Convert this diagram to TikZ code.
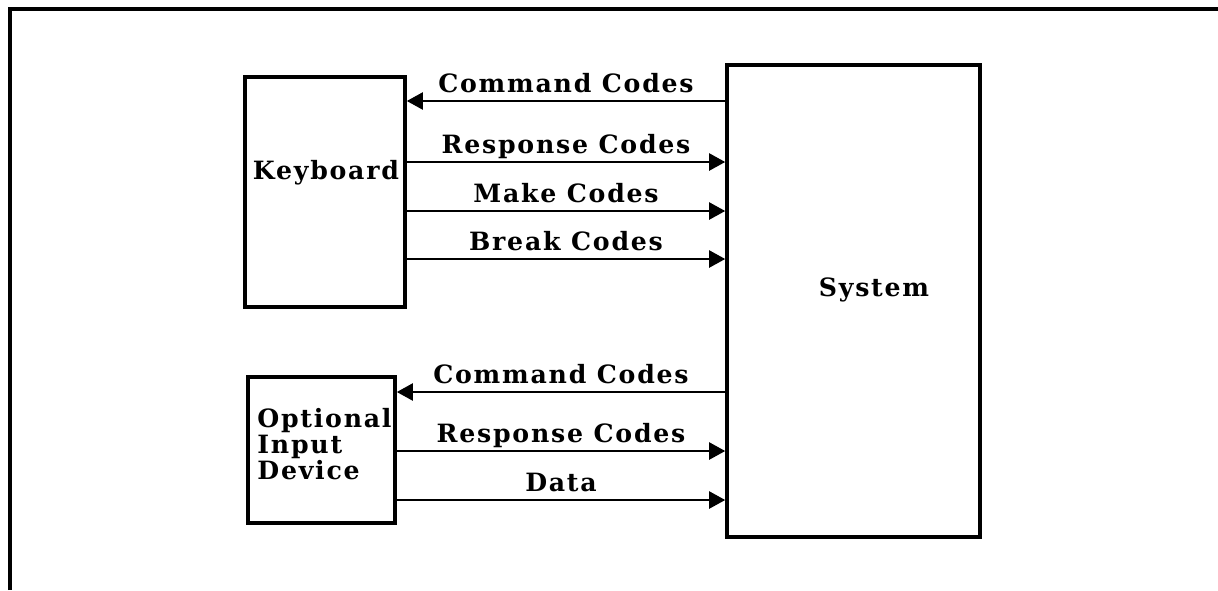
\documentclass[tikz,border=0pt]{standalone}
\usepackage{fontspec}
\setmainfont{DejaVu Serif}[LetterSpace=7]
\usetikzlibrary{arrows.meta}
\begin{document}
\begin{tikzpicture}[x=0.5pt,y=-0.5pt,
  box/.style={draw,line width=1.8pt,inner sep=0pt},
  txt/.style={font=\fontsize{12.6}{13}\selectfont\bfseries,inner sep=0pt},
  arr/.style={line width=1.1pt,-{Triangle[length=8pt,width=8.5pt]}},
  tag/.style={midway,anchor=base,yshift=4.5pt,inner sep=0pt,font=\fontsize{12.6}{13}\selectfont\bfseries}]
\useasboundingbox (0,0) rectangle (1218,590);
% outer frame (top and left only)
\draw[line width=1.6pt] (10,590) -- (10,9) -- (1218,9);
% boxes
\node[box,minimum width=80pt,minimum height=115pt] (kb) at (325,192) {};
\node[box,minimum width=73.5pt,minimum height=73pt] (opt) at (321.5,450) {};
\node[box,minimum width=126.5pt,minimum height=236pt] (sys) at (853.5,301) {};
% labels in boxes
\node[txt] (kbl) at (326,173) {Keyboard};
\node[txt,anchor=west,align=left] (optl) at (257,444) {Optional\\Input\\Device};
\node[txt] (sysl) at (874,290) {System};
% keyboard connectors
\draw[arr] (sys.west |- 0,101) -- (kb.east |- 0,101) node[tag] {Command Codes};
\draw[arr] (kb.east |- 0,162) -- (sys.west |- 0,162) node[tag] {Response Codes};
\draw[arr] (kb.east |- 0,211) -- (sys.west |- 0,211) node[tag] {Make Codes};
\draw[arr] (kb.east |- 0,259) -- (sys.west |- 0,259) node[tag] {Break Codes};
% optional device connectors
\draw[arr] (sys.west |- 0,392) -- (opt.east |- 0,392) node[tag] {Command Codes};
\draw[arr] (opt.east |- 0,451) -- (sys.west |- 0,451) node[tag] {Response Codes};
\draw[arr] (opt.east |- 0,500) -- (sys.west |- 0,500) node[tag] {Data};
\end{tikzpicture}
\end{document}
